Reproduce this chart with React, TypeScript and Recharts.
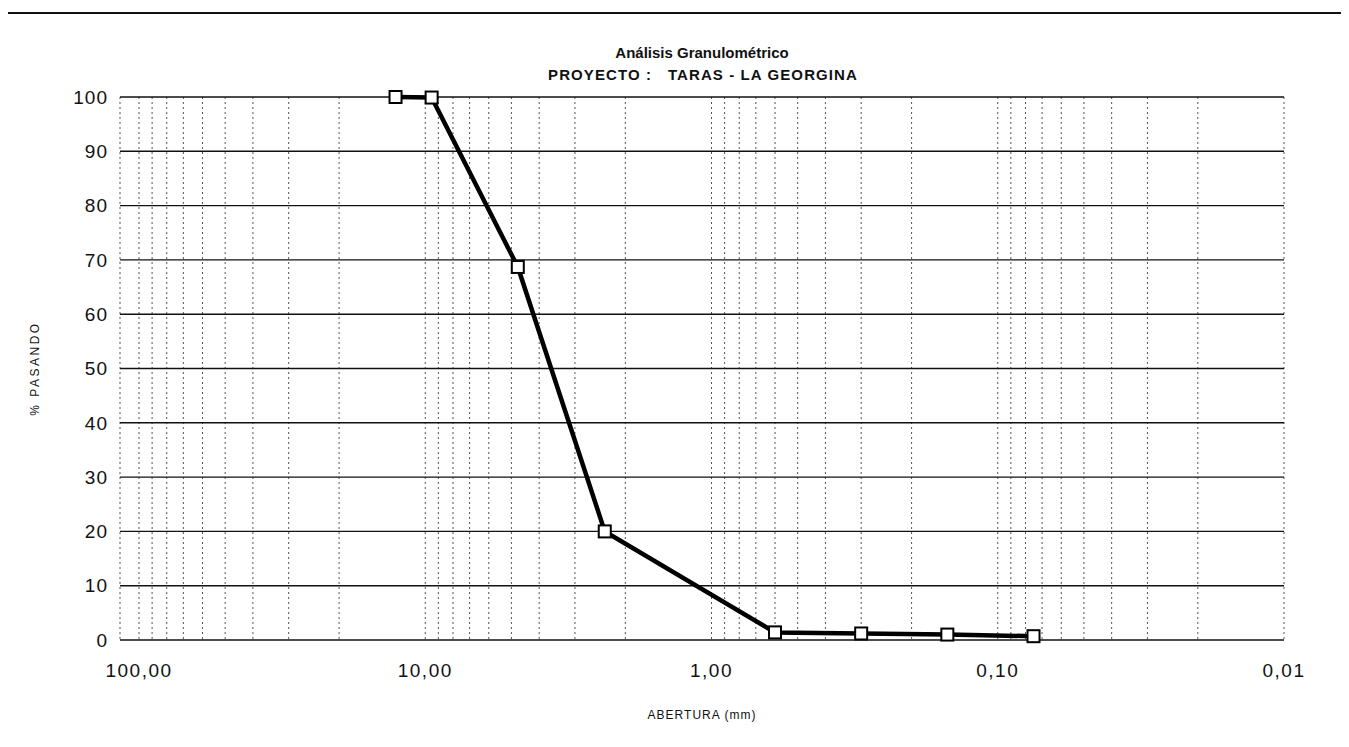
import React from 'react';
import { LineChart, Line, XAxis, YAxis, CartesianGrid } from 'recharts';

// abertura del tamiz (mm) y % que pasa
const aberturas = [12.7, 9.5, 4.75, 2.36, 0.6, 0.3, 0.15, 0.075];
const pasando = [100, 99.9, 68.7, 20, 1.4, 1.2, 1.0, 0.7];

const xTicks = [
  0.01, 0.02, 0.03, 0.04, 0.05, 0.06, 0.07, 0.08, 0.09,
  0.1, 0.2, 0.3, 0.4, 0.5, 0.6, 0.7, 0.8, 0.9,
  1, 2, 3, 4, 5, 6, 7, 8, 9,
  10, 20, 30, 40, 50, 60, 70, 80, 90,
  100,
];
const decadeTicks = [100, 10, 1, 0.1, 0.01];
const decadeLabels = ['100,00', '10,00', '1,00', '0,10', '0,01'];
const yTicks = [0, 10, 20, 30, 40, 50, 60, 70, 80, 90, 100];

const data = aberturas.map((a, i) => ({ abertura: a, pasando: pasando[i] }));

const font = '"Liberation Sans", Arial, sans-serif';

const SquareDot = (props: any) => {
  const { cx, cy, index } = props;
  return (
    <rect key={`d-${index}`} x={cx - 6} y={cy - 6} width={12} height={12} fill="#fff" stroke="#000" strokeWidth={2} />
  );
};

const App = () => {
  return (
    <div
      style={{
        position: 'relative',
        top: 4,
        left: -2,
        width: 1343,
        height: 733,
        borderTop: '2px solid #111',
        borderLeft: '1px dashed #888',
        fontFamily: font,
        background: '#fff',
      }}
    >
      <div style={{ position: 'absolute', left: 695, top: 30, transform: 'translateX(-50%)', fontSize: 15, fontWeight: 'bold', lineHeight: '18px', whiteSpace: 'pre', color: '#111' }}>
        Análisis Granulométrico
      </div>
      <div style={{ position: 'absolute', left: 696, top: 52, transform: 'translateX(-50%)', fontSize: 15, fontWeight: 'bold', lineHeight: '18px', letterSpacing: 1.1, whiteSpace: 'pre', color: '#111' }}>
        {'PROYECTO :   TARAS - LA GEORGINA'}
      </div>
      <LineChart width={1341} height={725} data={data} margin={{ top: 83, right: 64, bottom: 14, left: 0 }}>
        <CartesianGrid horizontal={false} stroke="#555" strokeDasharray="2 3" strokeWidth={1} />
        <CartesianGrid vertical={false} stroke="#111" strokeWidth={1.4} />
        <XAxis
          dataKey="abertura"
          type="number"
          scale="log"
          domain={[0.01, 100]}
          allowDataOverflow
          reversed
          ticks={xTicks}
          interval={0}
          padding={{ left: 19, right: 0 }}
          tickFormatter={(v: number) => {
            const i = decadeTicks.indexOf(v);
            return i >= 0 ? decadeLabels[i] : '';
          }}
          axisLine={false}
          tickLine={false}
          tickSize={0}
          tickMargin={24}
          height={85}
          tick={{ fill: '#111', fontSize: 19, fontFamily: font, letterSpacing: 1.5 }}
          label={{ value: 'ABERTURA  (mm)', position: 'insideBottom', offset: 6, fill: '#111', fontSize: 12, fontFamily: font, style: { letterSpacing: 1, whiteSpace: 'pre' } }}
        />
        <YAxis
          type="number"
          domain={[0, 100]}
          ticks={yTicks}
          interval={0}
          axisLine={false}
          tickLine={false}
          tickSize={0}
          tickMargin={12}
          width={113}
          tick={{ fill: '#111', fontSize: 19, fontFamily: font, letterSpacing: 1 }}
          label={{ value: '% PASANDO', angle: -90, position: 'insideLeft', offset: 28, fill: '#111', fontSize: 12, fontFamily: font, style: { textAnchor: 'middle', letterSpacing: 2.5 } }}
        />
        <Line
          type="linear"
          dataKey="pasando"
          stroke="#000"
          strokeWidth={4.5}
          dot={SquareDot}
          activeDot={false}
          isAnimationActive={false}
        />
      </LineChart>
    </div>
  );
};

export default App;
